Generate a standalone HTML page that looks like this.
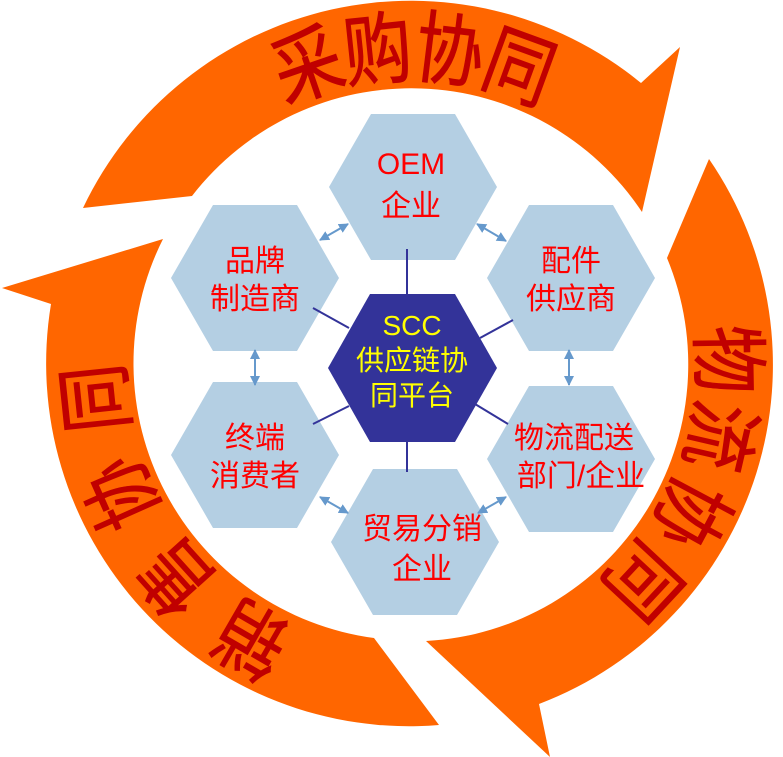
<!DOCTYPE html>
<html><head><meta charset="utf-8"><style>
html,body{margin:0;padding:0;background:#fff;}
svg{display:block;}
text{font-family:"Liberation Sans","Noto Sans CJK SC",sans-serif;}
</style></head><body>
<svg width="783" height="757" viewBox="0 0 783 757" xmlns="http://www.w3.org/2000/svg">
<defs>
<marker id="ah" viewBox="0 0 10 10" refX="9" refY="5" markerWidth="5" markerHeight="5" orient="auto-start-reverse"><path d="M0,0 L10,5 L0,10 z" fill="#6699cc"/></marker>
</defs>
<g fill="#ff6600">
<path d="M83,208 A363,363 0 0 1 641,83 L680,47 L642,212 A277,277 0 0 0 192,196 Z"/>
<path d="M709,159 A363,363 0 0 1 539,704 L550,757 L426,641 A277,277 0 0 0 667,258 Z"/>
<path d="M439,725 A363,363 0 0 1 51,304 L2,288 L163,239 A277,277 0 0 0 374,638 Z"/>
</g>
<g fill="#c00000" stroke="#c00000" stroke-width="0.8" font-size="72" text-anchor="middle" dominant-baseline="central">
<text transform="translate(411,365) rotate(-109) translate(316,0) rotate(90) scale(0.95,1.1)">采</text>
<text transform="translate(411,365) rotate(-96) translate(316,0) rotate(90) scale(0.95,1.1)">购</text>
<text transform="translate(411,365) rotate(-83) translate(316,0) rotate(90) scale(0.95,1.1)">协</text>
<text transform="translate(411,365) rotate(-70) translate(316,0) rotate(90) scale(0.95,1.1)">同</text>
<text transform="translate(411,365) rotate(-1) translate(316,0) rotate(90) scale(0.95,1.1)">物</text>
<text transform="translate(411,365) rotate(13) translate(316,0) rotate(90) scale(0.95,1.1)">流</text>
<text transform="translate(411,365) rotate(28) translate(316,0) rotate(90) scale(0.95,1.1)">协</text>
<text transform="translate(411,365) rotate(43) translate(316,0) rotate(90) scale(0.95,1.1)">同</text>
<text transform="translate(411,365) rotate(120) translate(316,0) rotate(90) scale(0.95,1.1)">销</text>
<text transform="translate(411,365) rotate(138) translate(316,0) rotate(90) scale(0.95,1.1)">售</text>
<text transform="translate(411,365) rotate(156) translate(316,0) rotate(90) scale(0.95,1.1)">协</text>
<text transform="translate(411,365) rotate(174) translate(316,0) rotate(90) scale(0.95,1.1)">同</text>
</g>
<g fill="#b4cfe3">
<path d="M371,114 h84 l42,73 l-42,73 h-84 l-42,-73 z"/>
<path d="M213,205 h84 l42,73 l-42,73 h-84 l-42,-73 z"/>
<path d="M529,205 h84 l42,73 l-42,73 h-84 l-42,-73 z"/>
<path d="M213,382 h84 l42,73 l-42,73 h-84 l-42,-73 z"/>
<path d="M529,386 h84 l42,73 l-42,73 h-84 l-42,-73 z"/>
<path d="M373,469 h84 l42,73 l-42,73 h-84 l-42,-73 z"/>
</g>
<g stroke="#333399" stroke-width="2">
<line x1="407" y1="249" x2="407" y2="296"/>
<line x1="407" y1="440" x2="407" y2="472"/>
<line x1="313" y1="308" x2="349" y2="328"/>
<line x1="513" y1="320" x2="480" y2="338"/>
<line x1="313" y1="424" x2="349" y2="406"/>
<line x1="508" y1="424" x2="475" y2="404"/>
</g>
<path d="M370,294 h85 l42,74 l-42,74 h-85 l-42,-74 z" fill="#333399"/>
<g stroke="#6699cc" stroke-width="2" marker-start="url(#ah)" marker-end="url(#ah)">
<line x1="320" y1="240" x2="348" y2="224"/>
<line x1="477" y1="224" x2="506" y2="241"/>
<line x1="255" y1="350" x2="255" y2="385"/>
<line x1="569" y1="350" x2="569" y2="385"/>
<line x1="320" y1="497" x2="348" y2="513"/>
<line x1="478" y1="513" x2="506" y2="497"/>
</g>
<g fill="#ff0000" font-size="30" text-anchor="middle">
<text x="411" y="174">OEM</text>
<text x="411" y="216">企业</text>
<text x="255" y="271">品牌</text>
<text x="255" y="309">制造商</text>
<text x="571" y="271">配件</text>
<text x="571" y="309">供应商</text>
<text x="255" y="448">终端</text>
<text x="255" y="486">消费者</text>
<text x="574" y="448">物流配送</text>
<text x="581" y="486">部门/企业</text>
<text x="422" y="539">贸易分销</text>
<text x="422" y="579">企业</text>
</g>
<g fill="#ffff00" font-size="28" text-anchor="middle">
<text x="412" y="335">SCC</text>
<text x="412" y="370">供应链协</text>
<text x="412" y="405">同平台</text>
</g>
</svg>
</body></html>
